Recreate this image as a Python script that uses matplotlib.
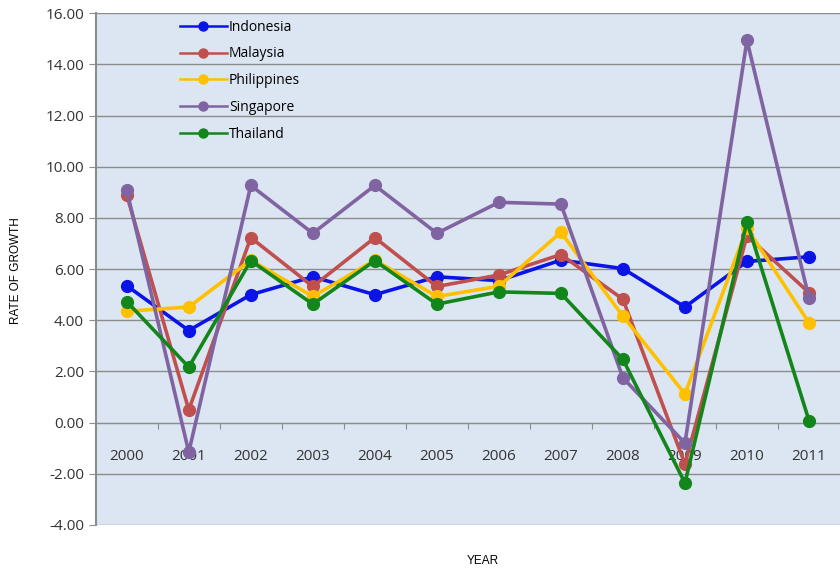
import matplotlib
matplotlib.use('Agg')
import matplotlib.pyplot as plt
import numpy as np

years = ['2000', '2001', '2002', '2003', '2004', '2005',
         '2006', '2007', '2008', '2009', '2010', '2011']
indonesia = [5.35, 3.60, 5.00, 5.70, 5.00, 5.70, 5.55, 6.35, 6.02, 4.52, 6.30, 6.48]
malaysia = [8.90, 0.50, 7.23, 5.32, 7.23, 5.32, 5.77, 6.57, 4.82, -1.62, 7.30, 5.08]
philippines = [4.35, 4.52, 6.35, 4.93, 6.35, 4.93, 5.33, 7.44, 4.16, 1.12, 7.60, 3.90]
singapore = [9.08, -1.15, 9.27, 7.40, 9.27, 7.40, 8.61, 8.54, 1.75, -0.80, 14.94, 4.87]
thailand = [4.73, 2.17, 6.33, 4.63, 6.33, 4.63, 5.11, 5.05, 2.47, -2.36, 7.85, 0.08]

series = [('Indonesia', indonesia, '#0a14e6'),
          ('Malaysia', malaysia, '#c0504d'),
          ('Philippines', philippines, '#ffc000'),
          ('Singapore', singapore, '#8064a2'),
          ('Thailand', thailand, '#13861b')]

plt.rcParams['font.family'] = ['Open Sans', 'DejaVu Sans']

fig = plt.figure(figsize=(8.4, 5.75), dpi=100)
ax = fig.add_axes([0.114, 0.087, 0.886, 0.890])
ax.set_facecolor('#dce6f2')

x = np.arange(len(years))
for name, vals, col in series:
    ax.plot(x, vals, '-o', color=col, lw=2.6, ms=8.5, label=name, zorder=3)

ax.set_xlim(-0.5, len(years) - 0.5)
ax.set_ylim(-4, 16)
ax.set_yticks(np.arange(-4, 17, 2))
ax.set_yticklabels([f'{v:.2f}' for v in np.arange(-4, 17, 2)], fontsize=11, color='#333333')
ax.grid(axis='y', color='#8c8c8c', lw=1)
ax.set_axisbelow(True)

# category axis sitting on zero
ax.spines['bottom'].set_position(('data', 0))
ax.spines['bottom'].set_color('#8c8c8c')
ax.spines['left'].set_color('#8c8c8c')
ax.spines['left'].set_linewidth(1.5)
ax.spines['top'].set_visible(False)
ax.spines['right'].set_visible(False)
ax.set_xticks(np.arange(0.5, len(years) - 1, 1))
ax.set_xticklabels([])
ax.tick_params(axis='x', which='major', length=4, color='#8c8c8c', direction='out')
ax.set_xticks(x, minor=True)
ax.set_xticklabels(years, minor=True, fontsize=11, color='#333333')
ax.tick_params(axis='x', which='minor', length=0, pad=19)
ax.tick_params(axis='y', length=5, color='#8c8c8c')

fig.text(0.019, 0.53, 'RATE OF GROWTH', rotation=90, ha='center', va='center',
         fontsize=8.5, family=['Liberation Sans'])
fig.text(0.575, 0.025, 'YEAR', ha='center', va='center', fontsize=8.5,
         family=['Liberation Sans'])

leg = ax.legend(loc='upper left', bbox_to_anchor=(0.096, 1.012), frameon=False,
                fontsize=10, handlelength=3.4, labelspacing=0.85, handletextpad=0.15)
for ln in leg.get_lines():
    ln.set_linewidth(1.8)
    ln.set_markersize(6.5)

fig.savefig('out.png', dpi=100)
